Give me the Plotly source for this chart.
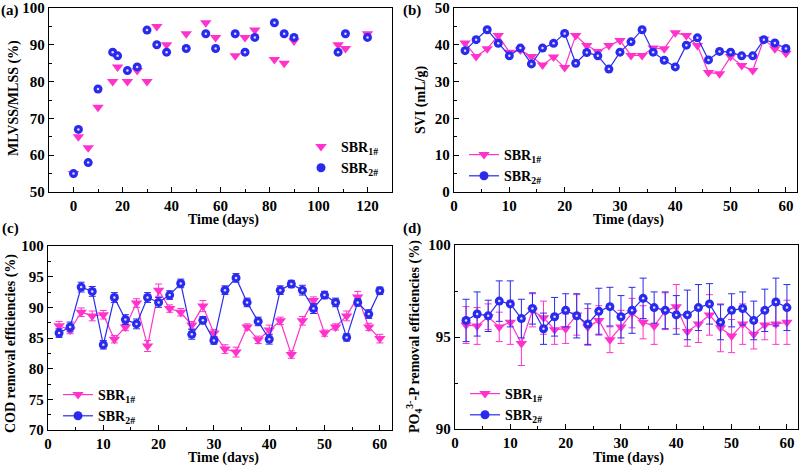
import plotly.graph_objects as go

# ---------------------------------------------------------------------------
# data
# ---------------------------------------------------------------------------

# (a) MLVSS/MLSS
a_days = [0, 2, 6, 10, 16, 18, 22, 26, 30, 34, 38, 46, 54, 58, 66, 70, 74, 82, 86, 90, 108, 111, 120]
a_sbr1 = [55, 65, 62, 73, 80, 84, 80, 83, 80, 95, 90, 93, 96, 92, 87, 92, 94, 86, 85, 91, 90, 89, 93]
a_sbr2 = [55, 67, 58, 78, 88, 87, 83, 84, 94, 90, 88, 89, 93, 89, 93, 88, 92, 96, 93, 92, 88, 93, 92]

# days 2..60 for (b)-(d)
days = [2, 4, 6, 8, 10, 12, 14, 16, 18, 20, 22, 24, 26, 28, 30,
        32, 34, 36, 38, 40, 42, 44, 46, 48, 50, 52, 54, 56, 58, 60]

# (b) SVI
b_sbr1 = [40.5, 36.8, 38.9, 42.5, 38.0, 38.6, 36.8, 34.5, 36.7, 33.8, 42.5, 39.8, 38.2, 39.8, 41.2,
          37.1, 37.1, 39.1, 38.9, 43.3, 42.5, 39.8, 32.5, 32.1, 36.8, 34.4, 33.0, 41.5, 38.9, 37.7]
b_sbr2 = [38.4, 41.4, 44.1, 40.4, 37.0, 39.1, 34.8, 39.1, 40.4, 43.1, 35.0, 37.9, 37.0, 33.4, 38.0,
          40.8, 44.1, 38.0, 35.8, 34.0, 39.9, 41.9, 35.9, 38.2, 38.0, 37.0, 37.0, 41.4, 40.5, 39.0]

# (c) COD removal
c_sbr1 = [87.0, 86.3, 89.2, 88.6, 88.8, 84.8, 86.8, 90.7, 83.7, 92.8, 89.8, 89.2, 87.1, 90.2, 85.8,
          83.2, 82.7, 86.8, 84.7, 86.3, 87.8, 82.3, 87.8, 91.1, 85.8, 86.8, 88.6, 91.7, 86.8, 84.9]
c_err1 = [0.7, 0.6, 0.7, 0.8, 0.7, 0.6, 0.6, 0.7, 0.9, 1.0, 0.6, 0.6, 0.6, 0.9, 0.6,
          0.7, 0.8, 0.5, 0.6, 0.8, 0.6, 0.6, 0.7, 0.6, 0.5, 0.5, 0.8, 0.9, 0.6, 0.7]
c_sbr2 = [85.8, 86.8, 93.3, 92.6, 83.9, 91.6, 88.0, 87.3, 91.6, 90.8, 92.0, 93.9, 85.6, 87.9, 84.6,
          92.8, 94.8, 90.8, 87.7, 84.8, 92.8, 93.8, 92.8, 89.8, 92.0, 90.8, 85.1, 90.8, 88.9, 92.7]
c_err2 = [0.7, 0.8, 0.8, 0.8, 0.7, 0.8, 0.8, 0.8, 0.8, 0.8, 0.7, 0.7, 0.8, 0.6, 0.6,
          0.7, 0.7, 0.7, 0.7, 0.8, 0.7, 0.6, 0.8, 0.8, 0.6, 0.7, 0.6, 0.6, 0.7, 0.6]

# (d) PO4-P removal
d_sbr1 = [95.65, 95.6, 96.1, 95.55, 95.8, 94.65, 96.45, 96.05, 95.4, 95.45, 96.2, 95.55, 95.9, 94.85, 95.55,
          96.3, 95.8, 95.6, 96.4, 96.65, 95.3, 95.7, 96.2, 95.5, 95.05, 95.7, 95.15, 95.65, 95.7, 95.8]
d_err1 = [1.0, 1.0, 0.7, 0.8, 1.2, 1.2, 0.9, 0.9, 0.8, 0.8, 1.1, 1.0, 0.8, 0.7, 0.9,
          0.8, 0.9, 1.0, 1.0, 1.2, 0.8, 1.0, 1.1, 1.3, 0.9, 1.1, 0.8, 0.8, 1.1, 1.2]
d_sbr2 = [95.9, 96.25, 96.15, 96.95, 96.8, 96.0, 96.55, 95.45, 96.1, 96.45, 96.15, 95.7, 96.4, 96.65, 96.1,
          96.45, 97.1, 96.6, 96.45, 96.2, 96.2, 96.6, 96.8, 95.8, 96.45, 96.55, 95.9, 96.45, 96.9, 96.6]
d_err2 = [1.15, 1.2, 0.85, 1.1, 1.25, 1.05, 0.85, 0.85, 1.05, 0.9, 1.2, 1.1, 1.25, 1.05, 1.15,
          1.25, 1.1, 0.85, 1.0, 1.05, 1.35, 1.25, 1.1, 0.95, 0.9, 0.9, 1.05, 1.15, 1.3, 1.25]

PINK = "#ff33cc"
BLUE = "#2a2aef"
FONT = "Liberation Serif"

fig = go.Figure()


def add_pair(x, y1, y2, n, legend, lines, err1=None, err2=None):
    xa = "x" if n == 1 else f"x{n}"
    ya = "y" if n == 1 else f"y{n}"
    mode = "lines+markers" if lines else "markers"
    for y, err, name, col, sym, size in [
        (y1, err1, "SBR<sub>1#</sub>", PINK, "triangle-down", 10),
        (y2, err2, "SBR<sub>2#</sub>", BLUE, "circle", 9),
    ]:
        fig.add_trace(go.Scatter(
            x=x, y=y, mode=mode, name=name, xaxis=xa, yaxis=ya, legend=legend,
            line=dict(color=col, width=1.2),
            marker=dict(symbol=sym, size=size, color=col, line=dict(width=0)),
            error_y=dict(type="data", array=err, color=col, thickness=1, width=3.5,
                         visible=err is not None),
        ))
    # small highlight on the blue balls
    fig.add_trace(go.Scatter(
        x=x, y=y2, mode="markers", xaxis=xa, yaxis=ya, showlegend=False, hoverinfo="skip",
        marker=dict(symbol="circle", size=2.5, color="#dcdcff", line=dict(width=0)),
    ))


add_pair(a_days, a_sbr1, a_sbr2, 1, "legend", False)
add_pair(days, b_sbr1, b_sbr2, 2, "legend2", True)
add_pair(days, c_sbr1, c_sbr2, 3, "legend3", True, c_err1, c_err2)
add_pair(days, d_sbr1, d_sbr2, 4, "legend4", True, d_err1, d_err2)

W, H = 801, 467


def px_dom_x(l, r):
    return [l / W, r / W]


def px_dom_y(t, b):
    return [1 - b / H, 1 - t / H]


def axis(dom, rng, dtick, minor, anchor):
    return dict(
        domain=dom, range=rng, dtick=dtick, anchor=anchor, automargin=False,
        showline=True, linecolor="black", linewidth=1.3, mirror=True,
        ticks="inside", ticklen=5, tickwidth=1.2, tickcolor="black",
        minor=dict(dtick=minor, ticks="inside", ticklen=3, tickwidth=1.2, tickcolor="black"),
        showgrid=False, zeroline=False,
        tickfont=dict(family=FONT, size=15, color="black", weight="bold"),
    )


fig.update_layout(
    xaxis=axis(px_dom_x(49, 392), [-10, 130], 20, 10, "y"),
    yaxis=axis(px_dom_y(8, 192), [50, 100], 10, 5, "x"),
    xaxis2=axis(px_dom_x(454, 797), [0, 62], 10, 5, "y2"),
    yaxis2=axis(px_dom_y(8, 192), [0, 50], 10, 5, "x2"),
    xaxis3=axis(px_dom_x(48, 392), [0, 62.2], 10, 5, "y3"),
    yaxis3=axis(px_dom_y(246, 430), [70, 100], 5, 2.5, "x3"),
    xaxis4=axis(px_dom_x(455, 798), [0, 62], 10, 5, "y4"),
    yaxis4=axis(px_dom_y(245, 429), [90, 100], 5, 2.5, "x4"),
)

leg_font = dict(family=FONT, size=14, color="black", weight="bold")
leg_common = dict(font=leg_font, bgcolor="rgba(0,0,0,0)", xanchor="left", yanchor="top",
                  tracegroupgap=0)
fig.update_layout(
    legend=dict(x=301 / W, y=1 - 131 / H, **leg_common),
    legend2=dict(x=464 / W, y=1 - 139 / H, **leg_common),
    legend3=dict(x=58 / W, y=1 - 379 / H, **leg_common),
    legend4=dict(x=465 / W, y=1 - 378 / H, **leg_common),
)

texts = [
    ("(a)", 10, 10, 0, 15),
    ("(b)", 412, 10, 0, 15),
    ("(c)", 10, 229, 0, 15),
    ("(d)", 412, 229, 0, 15),
    ("Time (days)", 223, 220, 0, 14),
    ("Time (days)", 628, 220, 0, 14),
    ("Time (days)", 223, 458, 0, 14),
    ("Time (days)", 628, 458, 0, 14),
    ("MLVSS/MLSS (%)", 14, 98, -90, 14),
    ("SVI (mL/g)", 421, 100, -90, 14),
    ("COD removal efficiencies (%)", 11, 344, -90, 14),
    ("PO<sub>4</sub><sup>3-</sup>-P removal efficiencies (%)", 414, 337, -90, 14),
]
for t, x, y, ang, sz in texts:
    fig.add_annotation(
        text=t, x=x / W, y=1 - y / H, xref="paper", yref="paper",
        xanchor="center", yanchor="middle", showarrow=False, textangle=ang,
        font=dict(family=FONT, size=sz, color="black", weight="bold"),
    )

fig.update_layout(
    width=W, height=H,
    margin=dict(l=0, r=0, t=0, b=0),
    paper_bgcolor="white", plot_bgcolor="white",
    font=dict(family=FONT, color="black"),
)

# page body has a default 8px margin; drop it so the figure fills the window
fig.write_html("out.html", config={"displayModeBar": False},
               post_script="document.body.style.margin='0';")
